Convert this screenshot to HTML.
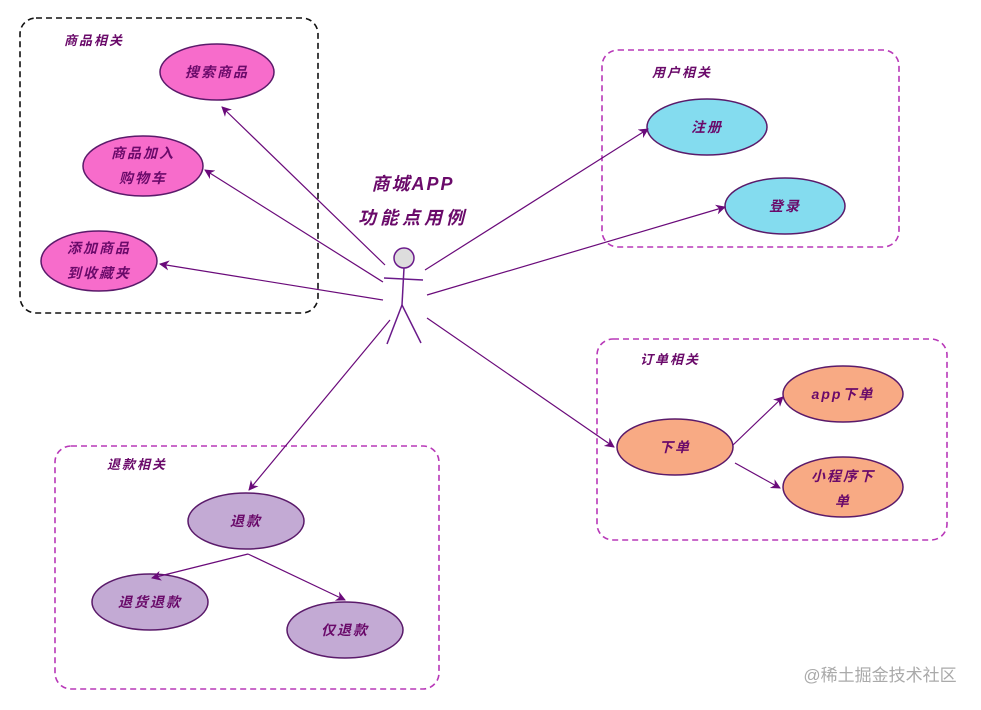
<!DOCTYPE html>
<html><head><meta charset="utf-8"><style>
body{margin:0;background:#fff}
svg text{font-family:"Liberation Sans","Noto Sans CJK SC",sans-serif;font-weight:bold;fill:#6a0a6a;font-style:italic}
</style></head><body>
<svg width="981" height="705" viewBox="0 0 981 705" xmlns="http://www.w3.org/2000/svg">
<defs><marker id="a" markerWidth="10" markerHeight="10" refX="9" refY="5" orient="auto" markerUnits="userSpaceOnUse"><path d="M0,0 L10,5 L0,10 L3,5 z" fill="#6a0a7a"/></marker></defs>
<rect x="20" y="18" width="298" height="295" rx="16" fill="none" stroke="#111" stroke-width="1.6" stroke-dasharray="6,4"/>
<rect x="602" y="50" width="297" height="197" rx="16" fill="none" stroke="#b838b8" stroke-width="1.6" stroke-dasharray="6,4"/>
<rect x="597" y="339" width="350" height="201" rx="16" fill="none" stroke="#b838b8" stroke-width="1.6" stroke-dasharray="6,4"/>
<rect x="55" y="446" width="384" height="243" rx="16" fill="none" stroke="#b838b8" stroke-width="1.6" stroke-dasharray="6,4"/>
<g font-size="13" letter-spacing="2">
<text x="64" y="45">商品相关</text><text x="652" y="77">用户相关</text><text x="640" y="364">订单相关</text><text x="107" y="469">退款相关</text>
</g>
<g stroke="#5a1a6a" stroke-width="1.5">
<ellipse cx="217" cy="72" rx="57" ry="28" fill="#f76ccb"/>
<ellipse cx="143" cy="166" rx="60" ry="30" fill="#f76ccb"/>
<ellipse cx="99" cy="261" rx="58" ry="30" fill="#f76ccb"/>
<ellipse cx="707" cy="127" rx="60" ry="28" fill="#84dcef"/>
<ellipse cx="785" cy="206" rx="60" ry="28" fill="#84dcef"/>
<ellipse cx="675" cy="447" rx="58" ry="28" fill="#f8aa84"/>
<ellipse cx="843" cy="394" rx="60" ry="28" fill="#f8aa84"/>
<ellipse cx="843" cy="487" rx="60" ry="30" fill="#f8aa84"/>
<ellipse cx="246" cy="521" rx="58" ry="28" fill="#c3aad4"/>
<ellipse cx="150" cy="602" rx="58" ry="28" fill="#c3aad4"/>
<ellipse cx="345" cy="630" rx="58" ry="28" fill="#c3aad4"/>
</g>
<g font-size="14" text-anchor="middle" letter-spacing="2">
<text x="217" y="77">搜索商品</text>
<text x="143" y="158">商品加入</text><text x="143" y="183">购物车</text>
<text x="99" y="253">添加商品</text><text x="99" y="278">到收藏夹</text>
<text x="707" y="132">注册</text><text x="785" y="211">登录</text>
<text x="675" y="452">下单</text><text x="843" y="399">app下单</text>
<text x="843" y="481">小程序下</text><text x="843" y="506">单</text>
<text x="246" y="526">退款</text><text x="150" y="607">退货退款</text><text x="345" y="635">仅退款</text>
<text x="413" y="190" font-size="18">商城APP</text>
<text x="413" y="224" font-size="18" letter-spacing="4">功能点用例</text>
</g>
<g stroke="#6a0a7a" stroke-width="1.2" fill="none" marker-end="url(#a)">
<line x1="385" y1="265" x2="222" y2="107"/>
<line x1="383" y1="282" x2="205" y2="170"/>
<line x1="383" y1="300" x2="160" y2="264"/>
<line x1="425" y1="270" x2="648" y2="129"/>
<line x1="427" y1="295" x2="725" y2="207"/>
<line x1="427" y1="318" x2="614" y2="447"/>
<line x1="390" y1="320" x2="249" y2="490"/>
<line x1="733" y1="445" x2="783" y2="397"/>
<line x1="735" y1="463" x2="780" y2="488"/>
<line x1="248" y1="554" x2="152" y2="578"/>
<line x1="248" y1="554" x2="345" y2="600"/>
</g>
<g stroke="#6a1a8a" stroke-width="1.5" fill="none">
<circle cx="404" cy="258" r="10" fill="#ddd"/>
<line x1="404" y1="268" x2="402" y2="305"/>
<line x1="384" y1="278" x2="423" y2="280"/>
<line x1="402" y1="305" x2="387" y2="344"/>
<line x1="402" y1="305" x2="421" y2="343"/>
</g>
<text x="880" y="681" font-size="17" text-anchor="middle" style="fill:#aaa;font-weight:normal;font-style:normal">@稀土掘金技术社区</text>
</svg>
</body></html>
